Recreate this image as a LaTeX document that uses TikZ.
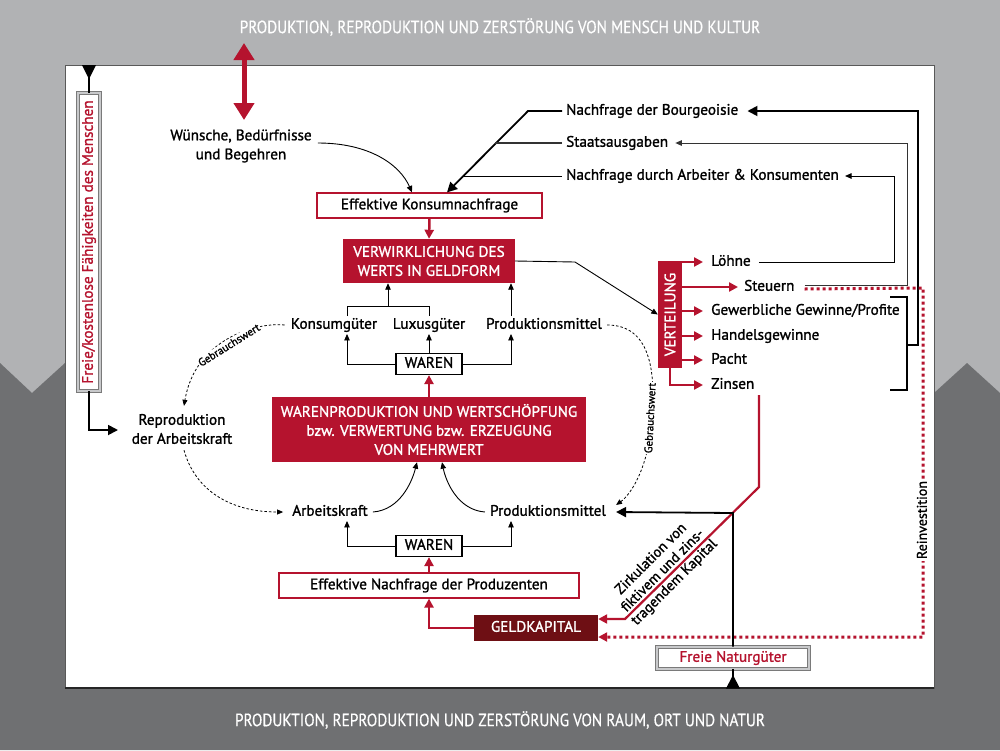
\documentclass[tikz,border=0pt]{standalone}
\usepackage{fontspec}
\setmainfont{PT Sans}[FakeBold=1.3]
\newfontfamily\titlefont{PT Sans}[FakeStretch=0.86,FakeBold=0.4]
\usetikzlibrary{arrows.meta}
\definecolor{myred}{HTML}{B5132E}
\definecolor{mydred}{HTML}{6E0F14}
\definecolor{lgray}{HTML}{B1B2B4}
\definecolor{dgray}{HTML}{6F7072}
\definecolor{fgray}{HTML}{7A7A7A}
\tikzset{
  fnt/.style={font=\fontsize{15.2}{19}\selectfont},
  t1/.style={fnt, inner xsep=0pt, inner ysep=2pt, text height=10.5pt, text depth=3pt},
  lbl/.style={t1, anchor=west},
  tm/.style={fnt, align=center, inner sep=0pt},
  boxt/.style={fnt, inner sep=0pt, text height=10pt, text depth=2.5pt},
  outbox/.style={boxt, draw=myred, line width=1.2pt, fill=white},
  redbox/.style={fnt, inner sep=0pt, fill=myred, text=white, align=center},
  warbox/.style={boxt, draw=black, line width=1.2pt, fill=white, minimum width=66, minimum height=21},
  graybox/.style={boxt, draw=fgray, double=lgray!70, double distance=1.6pt, line width=0.9pt, fill=white, text=myred},
  thinarr/.style={line width=0.9pt, -{Triangle[length=6.5pt,width=5.5pt]}},
  thickarr/.style={line width=1.8pt, -{Triangle[length=10pt,width=10pt]}},
  redarr/.style={myred, line width=2.5pt, -{Triangle[length=9pt,width=9pt]}},
  dasharr/.style={line width=0.8pt, dash pattern=on 2.5pt off 2pt, -{Triangle[length=6pt,width=5pt]}},
  gbw/.style={font=\fontsize{11}{13}\selectfont, fill=white, inner sep=1pt},
  ttl/.style={text=white, font=\titlefont\fontsize{17.8}{21}\selectfont},
}
\begin{document}
\begin{tikzpicture}[x=1pt,y=-1pt]
\useasboundingbox (0,0) rectangle (1000,750);
% background
\fill[lgray] (0,0) rectangle (1000,750);
\fill[dgray] (0,363)--(32,393)--(65,363)--(65,393)--(934,393)--(967,363)--(1000,393)--(1000,750)--(0,750)--cycle;
\filldraw[fill=white, draw=black!65, line width=1pt] (65,65) rectangle (934,688);
\draw[black!85, line width=1.5pt] (65,688)--(934,688);
% titles
\node[ttl] (ttop) at (500,27) {PRODUKTION, REPRODUKTION UND ZERSTÖRUNG VON MENSCH UND KULTUR};
\node[ttl] (tbot) at (500,720) {PRODUKTION, REPRODUKTION UND ZERSTÖRUNG VON RAUM, ORT UND NATUR};
% nodes
\node[tm] (wuensche) at (241,146) {Wünsche, Bedürfnisse\\und Begehren};
\node[tm] (repro) at (182,429) {Reproduktion\\der Arbeitskraft};
\node[lbl] (nbour) at (566,111) {Nachfrage der Bourgeoisie};
\node[lbl] (staat) at (566,143) {Staatsausgaben};
\node[lbl] (narb) at (566,176) {Nachfrage durch Arbeiter \& Konsumenten};
\node[outbox, minimum width=225, minimum height=25] (effkons) at (429.5,205.5) {Effektive Konsumnachfrage};
\node[redbox, minimum width=172, minimum height=44] (verw) at (429,261) {VERWIRKLICHUNG DES\\WERTS IN GELDFORM};
\node[t1] (konsum) at (334,325) {Konsumgüter};
\node[t1] (luxus) at (429,325) {Luxusgüter};
\node[t1] (pmit1) at (544,325) {Produktionsmittel};
\node[warbox] (waren1) at (429,364) {WAREN};
\node[redbox, minimum width=314, minimum height=65] (wprod) at (429,429.5) {WARENPRODUKTION UND WERTSCHÖPFUNG\\bzw. VERWERTUNG bzw. ERZEUGUNG\\VON MEHRWERT};
\node[t1] (arbk) at (330,512) {Arbeitskraft};
\node[t1] (pmit2) at (548,512) {Produktionsmittel};
\node[warbox] (waren2) at (429,546) {WAREN};
\node[outbox, minimum width=300, minimum height=25] (effprod) at (429,585.5) {Effektive Nachfrage der Produzenten};
\node[boxt, fill=mydred, text=white, minimum width=124, minimum height=26] (geld) at (536,628) {GELDKAPITAL};
\node[graybox, minimum width=152, minimum height=22] (natur) at (733,658) {Freie Naturgüter};
\node[redbox, rotate=90, minimum width=107, minimum height=24] (verteil) at (670,314.5) {VERTEILUNG};
\node[graybox, rotate=90, minimum width=298, minimum height=22] (freie) at (89,242) {Freie/kostenlose Fähigkeiten des Menschen};
\node[lbl] (loehne) at (711,262) {Löhne};
\node[lbl] (steuern) at (744,287) {Steuern};
\node[lbl] (gewerb) at (711,311) {Gewerbliche Gewinne/Profite};
\node[lbl] (handel) at (711,336) {Handelsgewinne};
\node[lbl] (pacht) at (711,360) {Pacht};
\node[lbl] (zinsen) at (711,385) {Zinsen};
\node[tm, rotate=45, font=\fontsize{14.5}{16.5}\selectfont] (zirk) at (663,571) {Zirkulation von\\fiktivem und zins-\\tragendem Kapital};
% top double arrow
\coordinate (ta) at (244,43);
\coordinate (tb) at (244,120);
\draw[myred, line width=5pt, {Triangle[length=17pt,width=20pt]}-{Triangle[length=17pt,width=20pt]}] (ta) -- (tb);
% freie
\fill (82,65)--(96,65)--(89,79)--cycle;
\draw[line width=1.5pt] (89,70) -- (freie.east);
\coordinate (freieend) at (118,430);
\draw[thickarr] (freie.west) |- (freieend);
% wuensche curve
\draw[thinarr] ([xshift=6pt,yshift=3pt]wuensche.east) .. controls (370,143) and (400,165) .. ([xshift=-17.5pt]effkons.north);
% demand lines
\draw[thickarr] ([xshift=-4pt]nbour.west) -- (528,111) -- ([xshift=17.5pt]effkons.north);
\draw[line width=1.2pt, black!80] ([xshift=-4pt]staat.west) -- (495,143);
\draw[line width=1pt] ([xshift=-4pt]narb.west) -- (462,176);
% right loops
\draw[thickarr] (907,345) -- (918,345) -- (918,111) -- ([xshift=9pt]nbour.east);
\draw[line width=1.8pt] (890,297) -- (907,297) -- (907,390) -- (890,390);
\draw[thinarr, black!80] ([xshift=10pt,yshift=2pt]steuern.east) -- (907,285) -- (907,143) -- ([xshift=7pt]staat.east);
\draw[thinarr] ([xshift=8pt]loehne.east) -- (894,262) -- (894,176) -- ([xshift=6pt]narb.east);
% reinvestition dotted
\draw[myred, line width=3pt, dash pattern=on 3pt off 3pt, -{Triangle[length=9pt,width=9pt]}] ([xshift=10pt,yshift=-2pt]steuern.east) -- (923,288) -- (923,637) -- ([yshift=-9pt]geld.east);
\node[t1, rotate=90, fill=white, inner sep=2pt, font=\fontsize{14}{16}\selectfont] (reinv) at (923,520) {Reinvestition};
% verteilung arrows
\draw[redarr] (verteil.south |- loehne.west) -- ([xshift=-8pt]loehne.west);
\draw[redarr] (verteil.south |- steuern.west) -- ([xshift=-6pt]steuern.west);
\draw[redarr] (verteil.south |- gewerb.west) -- ([xshift=-8pt]gewerb.west);
\draw[redarr] (verteil.south |- handel.west) -- ([xshift=-8pt]handel.west);
\draw[redarr] (verteil.south |- pacht.west) -- ([xshift=-8pt]pacht.west);
\draw[redarr] (verteil.west) |- ([xshift=-8pt]zinsen.west);
% zinsen to geldkapital
\coordinate (zs) at (759,395);
\draw[redarr, line width=2.2pt] (zs) -- (759,487) -- (625,619) -- ([yshift=9pt]geld.east);
% natur to produktionsmittel
\draw[thickarr] (natur.north) -- (733,513) -- ([xshift=10pt]pmit2.east);
\draw[line width=1.5pt] (natur.south) -- (733,688);
\fill (726,688.5)--(740,688.5)--(733,675)--cycle;
% verw to verteilung
\draw[thinarr] (verw.east) -- (575,262) -- (verteil.north);
% central red chain
\draw[redarr] (effkons.south) -- (verw.north);
\draw[redarr] (wprod.north) -- (waren1.south);
\draw[redarr] (effprod.north) -- (waren2.south);
\draw[redarr] (geld.west) -| (effprod.south);
% waren upper
\draw[thinarr] (waren1.west) -| ([xshift=13pt]konsum.south);
\draw[thinarr] (waren1.north) -- (luxus.south);
\draw[thinarr] (waren1.east) -| ([xshift=-33pt]pmit1.south);
\draw[line width=0.9pt] ([xshift=13pt]konsum.north) -- ++(0,-10) -| (luxus.north);
\draw[thinarr] (388,306.5) -- (verw.south -| 388,0);
\draw[thinarr] ([xshift=-33pt]pmit1.north) -- ([xshift=-33pt]pmit1.north |- verw.south);
% waren lower
\draw[thinarr] (waren2.west) -| ([xshift=17pt]arbk.south);
\draw[thinarr] (waren2.east) -| ([xshift=-37pt]pmit2.south);
\draw[thinarr] ([xshift=5pt]arbk.east) .. controls (400,510) and (412,482) .. ([xshift=-12pt]wprod.south);
\draw[thinarr] ([xshift=-5pt]pmit2.west) .. controls (458,510) and (446,482) .. ([xshift=13pt]wprod.south);
% gebrauchswert dashed
\draw[dasharr] ([xshift=-6pt]konsum.west) .. controls (255,322) and (195,340) .. ([xshift=2pt,yshift=8pt]repro.north);
\node[gbw, rotate=32] (gb1) at (229,345) {Gebrauchswert};
\draw[dasharr] ([xshift=2pt,yshift=-6pt]repro.south) .. controls (195,490) and (230,512) .. ([xshift=-9pt]arbk.west);
\draw[dasharr] ([xshift=5pt]pmit1.east) .. controls (650,325) and (656,370) .. (652,420) .. controls (648,470) and (630,495) .. ([xshift=10pt,yshift=7pt]pmit2.east);
\node[gbw, rotate=87] (gb2) at (650,418) {Gebrauchswert};
\end{tikzpicture}
\end{document}
